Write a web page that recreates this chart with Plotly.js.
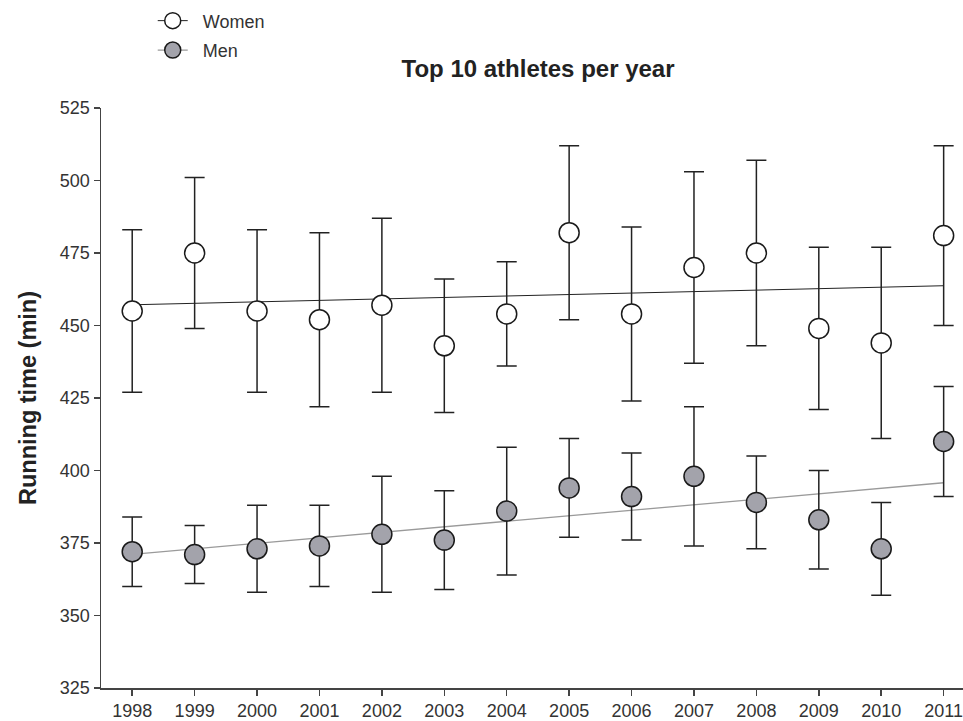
<!DOCTYPE html>
<html>
<head>
<meta charset="utf-8">
<script src="https://cdn.plot.ly/plotly-3.0.1.min.js"></script>
<style>html,body{margin:0;padding:0;background:#fff;}#chart{width:963px;height:721px;}</style>
</head>
<body>
<div id="chart"></div>
<script>
const years = [1998,1999,2000,2001,2002,2003,2004,2005,2006,2007,2008,2009,2010,2011];
const womenMean  = [455,475,455,452,457,443,454,482,454,470,475,449,444,481];
const womenUpper = [483,501,483,482,487,466,472,512,484,503,507,477,477,512];
const womenLower = [427,449,427,422,427,420,436,452,424,437,443,421,411,450];
const menMean  = [372,371,373,374,378,376,386,394,391,398,389,383,373,410];
const menUpper = [384,381,388,388,398,393,408,411,406,422,405,400,389,429];
const menLower = [360,361,358,360,358,359,364,377,376,374,373,366,357,391];
const seriesNames = ['Women','Men'];
const titleText = 'Top 10 athletes per year';
const yTitle = 'Running time (min)';
const yTicks = [325,350,375,400,425,450,475,500,525];

function fit(xs, ys){
  const n = xs.length;
  const mx = xs.reduce((a,b)=>a+b,0)/n, my = ys.reduce((a,b)=>a+b,0)/n;
  let sxy=0, sxx=0;
  for(let i=0;i<n;i++){ sxy+=(xs[i]-mx)*(ys[i]-my); sxx+=(xs[i]-mx)**2; }
  const b = sxy/sxx, a = my-b*mx;
  const x0 = xs[0], x1 = xs[n-1];
  return {x:[x0,x1], y:[a+b*x0, a+b*x1]};
}
const wf = fit(years, womenMean), mf = fit(years, menMean);
const FONT = 'Liberation Sans, Arial, sans-serif';
const womenFill = '#ffffff', menFill = '#a3a3ab';
const womenLine = '#222222', menLine = '#9a9a9a';
const pad = '\u00a0\u00a0';

const traces = [
  {x: wf.x, y: wf.y, mode:'lines', line:{color:womenLine, width:1}, showlegend:false, hoverinfo:'skip'},
  {x: mf.x, y: mf.y, mode:'lines', line:{color:menLine, width:1.3}, showlegend:false, hoverinfo:'skip'},
  {x: years, y: womenMean, mode:'markers', name: seriesNames[0], showlegend:false,
   marker:{size:20, color:womenFill, line:{color:'#1a1a1a', width:1.5}},
   error_y:{type:'data', symmetric:false,
     array: womenUpper.map((u,i)=>u-womenMean[i]),
     arrayminus: womenLower.map((l,i)=>womenMean[i]-l),
     color:'#222', thickness:1.5, width:10}},
  {x: years, y: menMean, mode:'markers', name: seriesNames[1], showlegend:false,
   marker:{size:20, color:menFill, line:{color:'#1a1a1a', width:1.5}},
   error_y:{type:'data', symmetric:false,
     array: menUpper.map((u,i)=>u-menMean[i]),
     arrayminus: menLower.map((l,i)=>menMean[i]-l),
     color:'#222', thickness:1.5, width:10}},
  {x:[null], y:[null], mode:'lines+markers', name: pad + seriesNames[0], legendgroup:'w',
   line:{color:womenLine, width:1}, marker:{size:20, color:womenFill, line:{color:'#1a1a1a', width:1.5}}},
  {x:[null], y:[null], mode:'lines+markers', name: pad + seriesNames[1], legendgroup:'m',
   line:{color:menLine, width:1.3}, marker:{size:20, color:menFill, line:{color:'#1a1a1a', width:1.5}}}
];

const layout = {
  width:963, height:721,
  margin:{l:101, r:0, t:108, b:33, pad:0},
  paper_bgcolor:'#fff', plot_bgcolor:'#fff',
  font:{family:FONT, size:18, color:'#333'},
  title:{text:titleText, font:{family:FONT, size:24, color:'#222', weight:'bold'},
         xref:'paper', x:0.507, xanchor:'center', yref:'container', y:1-69/721, yanchor:'middle'},
  xaxis:{range:[1997.5, 2011.31], tickvals:years, ticktext:years.map(String),
         showgrid:false, zeroline:false, showline:true, linecolor:'#444', linewidth:1.5,
         ticks:'outside', ticklen:6, tickwidth:1.5, tickcolor:'#444', ticklabeloverflow:'allow',
         tickfont:{family:FONT, size:18, color:'#333'}, fixedrange:true},
  yaxis:{range:[325,525], tickvals:yTicks, showgrid:false, zeroline:false,
         showline:true, linecolor:'#444', linewidth:1.5,
         ticks:'outside', ticklen:6, tickwidth:1.5, tickcolor:'#444',
         tickfont:{family:FONT, size:18, color:'#333'},
         title:{text:yTitle, font:{family:FONT, size:23.5, color:'#222', weight:'bold'}, standoff:16}},
  showlegend:true,
  legend:{x:0.06, y:1.182, xanchor:'left', yanchor:'top', bgcolor:'rgba(0,0,0,0)',
          font:{family:FONT, size:18, color:'#333'}, tracegroupgap:3, itemsizing:'trace'}
};
Plotly.newPlot('chart', traces, layout, {staticPlot:true, displayModeBar:false});
</script>
</body>
</html>
